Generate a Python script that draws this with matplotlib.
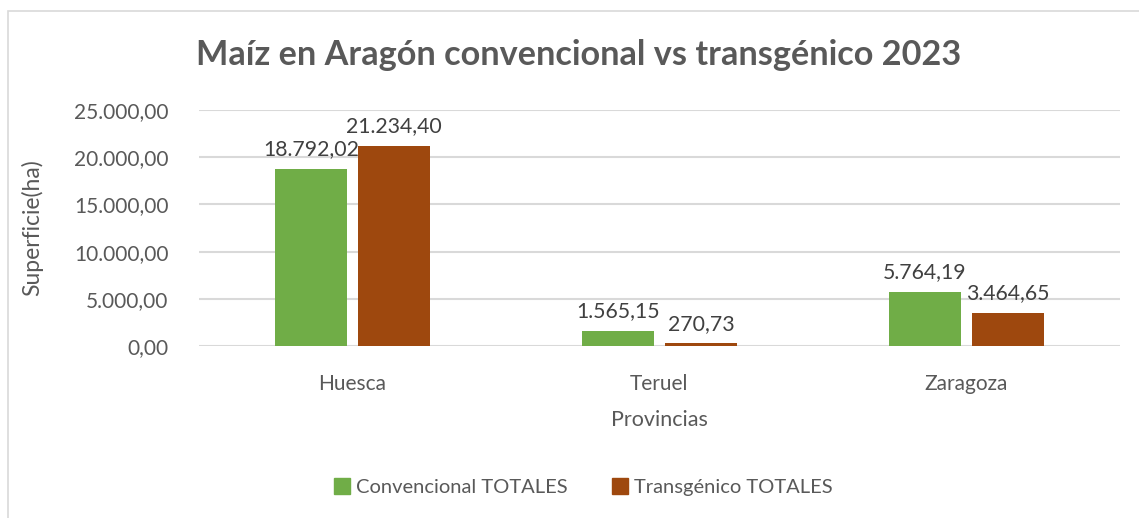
import matplotlib
matplotlib.use("Agg")
import matplotlib.pyplot as plt
from matplotlib.patches import Rectangle, Patch
from matplotlib.ticker import FuncFormatter
import numpy as np

categories = ["Huesca", "Teruel", "Zaragoza"]
convencional = [18792.02, 1565.15, 5764.19]
transgenico = [21234.40, 270.73, 3464.65]
series_names = ["Convencional TOTALES", "Transgénico TOTALES"]
title = "Maíz en Aragón convencional vs transgénico 2023"

plt.rcParams['font.family'] = ['Lato', 'DejaVu Sans']
TXT = "#595959"
GREEN = "#70AD47"
BROWN = "#9E480E"

def es_fmt(v):
    s = f"{v:,.2f}"
    return s.replace(",", "X").replace(".", ",").replace("X", ".")

W, H = 1139, 518
fig = plt.figure(figsize=(W/100, H/100), dpi=100)
fig.patches.append(Rectangle((8/W, -0.1), 1.2, 1 - 11/H + 0.1, transform=fig.transFigure,
                             fill=False, edgecolor="#D9D9D9", linewidth=1.2))

ax = fig.add_axes([199/W, 1 - 346/H, 921/W, 236/H])
x = np.arange(len(categories))
bw = 0.235
off = 0.135
b1 = ax.bar(x - off, convencional, bw, color=GREEN, label=series_names[0], zorder=3)
b2 = ax.bar(x + off, transgenico, bw, color=BROWN, label=series_names[1], zorder=3)
for bars, vals in ((b1, convencional), (b2, transgenico)):
    for r, v in zip(bars, vals):
        ax.annotate(es_fmt(v), (r.get_x() + r.get_width()/2, v), xytext=(0, 7),
                    textcoords="offset points", ha="center", va="bottom",
                    fontsize=15.3, color="#404040")

ax.set_xlim(-0.5, 2.5)
ax.set_ylim(0, 25000)
ax.set_yticks(np.arange(0, 25001, 5000))
ax.yaxis.set_major_formatter(FuncFormatter(lambda v, p: es_fmt(v)))
ax.set_xticks(x)
ax.set_xticklabels(categories)
ax.tick_params(axis="both", length=0, labelsize=15, colors=TXT)
ax.tick_params(axis="y", pad=22)
ax.tick_params(axis="x", pad=20)
ax.grid(axis="y", color="#D9D9D9", linewidth=1.5, zorder=0)
for s in ax.spines.values():
    s.set_visible(False)
ax.set_xlabel("Provincias", fontsize=15.5, color=TXT, labelpad=12)
fig.text(32/W, 1 - 228/H, "Superficie(ha)", rotation=90, ha="center", va="center",
         fontsize=16.5, color=TXT)

fig.text(579/W, 1 - 55/H, title, ha="center", va="center", fontsize=24.7,
         fontweight="bold", color=TXT)

handles = [Patch(color=GREEN), Patch(color=BROWN)]
fig.legend(handles, series_names, loc="center", bbox_to_anchor=(583/W, 1 - 487/H),
           ncol=2, frameon=False, fontsize=14.5, labelcolor=TXT, handlelength=0.8,
           handleheight=0.8, handletextpad=0.3, columnspacing=2.2)

fig.savefig("out.png", dpi=100, facecolor="white")
